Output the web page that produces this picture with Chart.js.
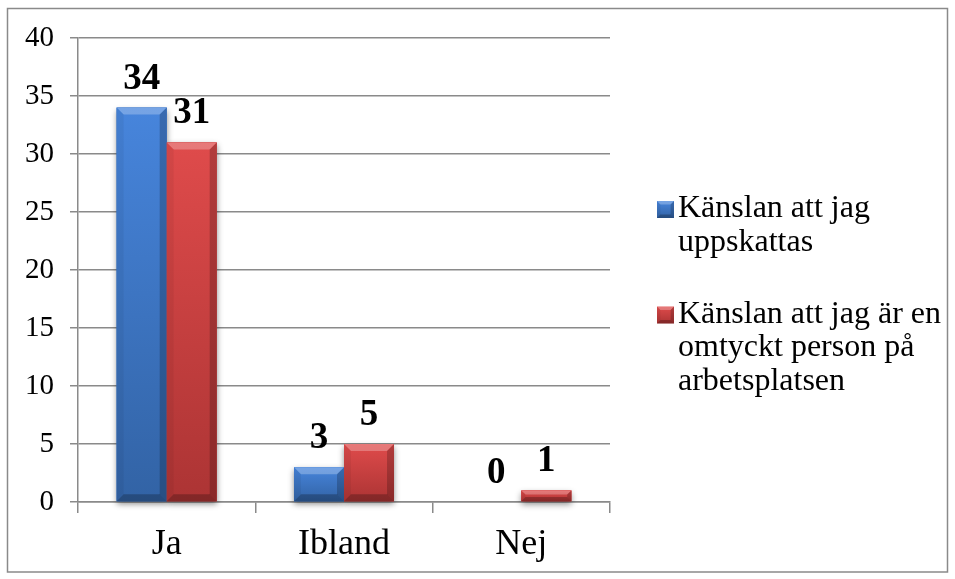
<!DOCTYPE html>
<html>
<head>
<meta charset="utf-8">
<script src="https://cdn.jsdelivr.net/npm/chart.js@4/dist/chart.umd.min.js"></script>
<style>
  html, body { margin: 0; padding: 0; background: #ffffff; }
  canvas { display: block; }
</style>
</head>
<body>
<canvas id="chart" width="955" height="579"></canvas>
<script>
// Survey answers: how many respondents felt appreciated / liked at work
const categories = ['Ja', 'Ibland', 'Nej'];
const seriesNames = [
  'Känslan att jag uppskattas',
  'Känslan att jag är en omtyckt person på arbetsplatsen'
];
const uppskattas = [34, 3, 0];
const omtyckt = [31, 5, 1];
const yMin = 0;
const yMax = 40;
const yStep = 5;

const SERIF = '"Liberation Serif", "Times New Roman", serif';
const GRID = '#8a8a8a';

// face colours (top -> bottom) for the bevelled columns
const palettes = [
  { base: '#3c78cc', top: '#4785dc', bottom: '#3263a5' },
  { base: '#cc4242', top: '#df4b4b', bottom: '#ac3434' }
];

function barBox(el) {
  const p = el.getProps(['x', 'y', 'base', 'width'], true);
  const left = p.x - p.width / 2;
  const right = p.x + p.width / 2;
  const top = Math.min(p.y, p.base);
  const bottom = Math.max(p.y, p.base);
  return { left, right, top, bottom, w: right - left, h: bottom - top, cx: p.x };
}

function poly(ctx, pts, fill) {
  ctx.beginPath();
  ctx.moveTo(pts[0][0], pts[0][1]);
  for (let i = 1; i < pts.length; i++) ctx.lineTo(pts[i][0], pts[i][1]);
  ctx.closePath();
  ctx.fillStyle = fill;
  ctx.fill();
}

function drawBevelBox(ctx, L, T, R, B, pal, maxBevel) {
  const w = R - L, h = B - T;
  if (h <= 0.5) return;
  const g = ctx.createLinearGradient(0, T, 0, B);
  g.addColorStop(0, pal.top);
  g.addColorStop(1, pal.bottom);
  ctx.fillStyle = g;
  ctx.fillRect(L, T, w, h);
  const b = Math.max(1, Math.min(maxBevel, h / 2.6, w / 5));
  // top facet
  poly(ctx, [[L, T], [R, T], [R - b, T + b], [L + b, T + b]], 'rgba(255,255,255,0.26)');
  // left facet
  poly(ctx, [[L, T], [L + b, T + b], [L + b, B - b], [L, B]], 'rgba(0,0,0,0.05)');
  // right facet
  poly(ctx, [[R, T], [R - b, T + b], [R - b, B - b], [R, B]], 'rgba(0,0,0,0.20)');
  // bottom facet
  poly(ctx, [[L, B], [L + b, B - b], [R - b, B - b], [R, B]], 'rgba(0,0,0,0.24)');
}

// Bevelled columns with a soft drop shadow, drawn over the library's bar geometry
const bevelBars = {
  id: 'bevelBars',
  afterDatasetsDraw(chart) {
    const ctx = chart.ctx;
    const metas = chart.data.datasets.map((d, i) => chart.getDatasetMeta(i));
    ctx.save();
    // shadows
    metas.forEach((meta, di) => {
      meta.data.forEach(el => {
        const r = barBox(el);
        if (r.h <= 0.5) return;
        ctx.save();
        ctx.shadowColor = 'rgba(0,0,0,0.45)';
        ctx.shadowBlur = 6;
        ctx.shadowOffsetY = 3;
        ctx.fillStyle = palettes[di].base;
        ctx.fillRect(r.left, r.top, r.w, r.h);
        ctx.restore();
      });
    });
    // faces
    metas.forEach((meta, di) => {
      meta.data.forEach(el => {
        const r = barBox(el);
        drawBevelBox(ctx, r.left, r.top, r.right, r.bottom, palettes[di], 7);
      });
    });
    ctx.restore();
  }
};

// Bold value above every column
const valueLabels = {
  id: 'valueLabels',
  afterDatasetsDraw(chart) {
    const ctx = chart.ctx;
    ctx.save();
    ctx.font = 'bold 37px ' + SERIF;
    ctx.fillStyle = '#000';
    ctx.textAlign = 'center';
    ctx.textBaseline = 'alphabetic';
    chart.data.datasets.forEach((ds, di) => {
      chart.getDatasetMeta(di).data.forEach((el, i) => {
        const r = barBox(el);
        ctx.fillText(String(ds.data[i]), r.cx, r.top - 19);
      });
    });
    ctx.restore();
  }
};

// Legend on the right with wrapped series names and bevelled swatches
const sideLegend = {
  id: 'sideLegend',
  afterDraw(chart) {
    const ctx = chart.ctx;
    const fontSize = 32;
    const lineH = 33.5;
    const itemGap = 38.5;
    const textX = 678;
    const swatchX = 657;
    const maxW = 265;
    ctx.save();
    ctx.font = fontSize + 'px ' + SERIF;
    const items = chart.data.datasets.map((ds, di) => {
      const words = ds.label.split(' ');
      const lines = [];
      let cur = '';
      words.forEach(w => {
        const test = cur ? cur + ' ' + w : w;
        if (ctx.measureText(test).width > maxW && cur) { lines.push(cur); cur = w; }
        else cur = test;
      });
      if (cur) lines.push(cur);
      return { lines, di };
    });
    let baseline = 217;
    ctx.textAlign = 'left';
    ctx.textBaseline = 'alphabetic';
    items.forEach(it => {
      drawBevelBox(ctx, swatchX, baseline - 16, swatchX + 17, baseline + 1, palettes[it.di], 4);
      ctx.fillStyle = '#000';
      it.lines.forEach((ln, k) => {
        ctx.fillText(ln, textX, baseline + k * lineH);
      });
      baseline += it.lines.length * lineH + itemGap;
    });
    ctx.restore();
  }
};

// Thin grey frame around the whole figure
const frame = {
  id: 'frame',
  afterDraw(chart) {
    const ctx = chart.ctx;
    ctx.save();
    ctx.strokeStyle = '#8a8a8a';
    ctx.lineWidth = 1.5;
    ctx.strokeRect(7.5, 8.5, chart.width - 15, chart.height - 15.5);
    ctx.restore();
  }
};

new Chart(document.getElementById('chart'), {
  type: 'bar',
  data: {
    labels: categories,
    datasets: [
      { label: seriesNames[0], data: uppskattas, backgroundColor: palettes[0].base, borderWidth: 0 },
      { label: seriesNames[1], data: omtyckt, backgroundColor: palettes[1].base, borderWidth: 0 }
    ]
  },
  options: {
    responsive: false,
    animation: false,
    events: [],
    layout: { padding: { left: 0, top: 38, right: 345, bottom: 0 } },
    datasets: { bar: { categoryPercentage: 0.564, barPercentage: 1 } },
    plugins: {
      legend: { display: false },
      tooltip: { enabled: false }
    },
    scales: {
      x: {
        grid: {
          display: true, drawOnChartArea: false, drawTicks: true,
          tickLength: 11, color: GRID, lineWidth: 1.5, offset: true
        },
        border: { display: true, color: GRID, width: 1.5 },
        ticks: {
          font: { family: SERIF, size: 36 }, color: '#000',
          padding: 10, maxRotation: 0, autoSkip: false
        },
        afterFit(scale) { scale.height = 77; }
      },
      y: {
        min: yMin, max: yMax,
        ticks: { stepSize: yStep, font: { family: SERIF, size: 29 }, color: '#000', padding: 16 },
        grid: { color: GRID, lineWidth: 1.5, drawTicks: true, tickLength: 8 },
        border: { display: true, color: GRID, width: 1.5 },
        afterFit(scale) { scale.width = 78; }
      }
    }
  },
  plugins: [bevelBars, valueLabels, sideLegend, frame]
});
</script>
</body>
</html>
